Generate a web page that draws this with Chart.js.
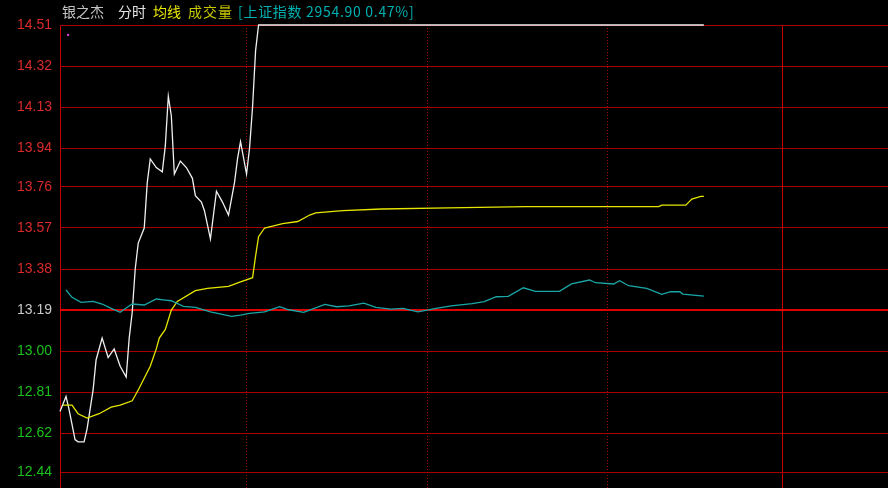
<!DOCTYPE html>
<html>
<head>
<meta charset="utf-8">
<script src="https://cdn.jsdelivr.net/npm/chart.js@4"></script>
<style>
  body { margin: 0; background: #000; }
  #wrap { position: relative; width: 888px; height: 488px; background: #000; }
  #head span { position: absolute; top: 2px; font: 14px "Noto Sans CJK SC", sans-serif; line-height: 18px; white-space: nowrap; }
</style>
</head>
<body>
<div id="wrap">
  <canvas id="c" width="888" height="488"></canvas>
  <div id="head">
    <span style="left:62px;color:#c4c4c4">银之杰</span>
    <span style="left:118px;color:#e4e4e4">分时</span>
    <span style="left:153px;color:#e8e800">均线</span>
    <span style="left:188px;color:#c8c800;letter-spacing:1px">成交量</span>
    <span style="left:238px;color:#00b0b0;letter-spacing:0.7px">[上证指数 2954.90 0.47%]</span>
  </div>
</div>
<script>
// minutes since open (0..240)
var prevClose = 13.19;
var indexPrevClose = 2941.08;
var priceTicks = [14.51, 14.32, 14.13, 13.94, 13.76, 13.57, 13.38, 13.19, 13.00, 12.81, 12.62, 12.44];
var hourTicks = [0, 62, 122, 182, 240];

var priceTimes = [0, 2, 3, 5, 6, 8, 9, 11, 12, 14, 16, 18, 20, 22, 23, 24, 25, 26, 28, 29, 30, 32, 34, 35, 36, 37, 38, 40, 42, 44, 45, 47, 48, 50, 52, 54, 56, 58, 59, 60, 62, 63, 64, 65, 66, 214];
var prices = [12.72, 12.79, 12.73, 12.59, 12.58, 12.58, 12.64, 12.82, 12.96, 13.06, 12.97, 13.01, 12.93, 12.88, 13.06, 13.18, 13.38, 13.50, 13.57, 13.78, 13.89, 13.85, 13.83, 13.95, 14.18, 14.09, 13.82, 13.88, 13.85, 13.80, 13.72, 13.69, 13.65, 13.52, 13.74, 13.69, 13.63, 13.78, 13.89, 13.97, 13.82, 13.94, 14.13, 14.39, 14.51, 14.51];

var avgTimes = [1, 4, 6, 9, 13, 17, 20, 24, 26, 30, 32, 33, 35, 37, 39, 45, 49, 56, 60, 64, 65, 66, 68, 71, 74, 79, 83, 85, 94, 107, 129, 155, 199, 200, 208, 210, 213, 214];
var avgPrices = [12.75, 12.75, 12.71, 12.69, 12.71, 12.74, 12.75, 12.77, 12.82, 12.93, 13.01, 13.06, 13.10, 13.19, 13.23, 13.28, 13.29, 13.30, 13.32, 13.34, 13.44, 13.53, 13.57, 13.58, 13.59, 13.60, 13.63, 13.64, 13.650, 13.658, 13.663, 13.669, 13.669, 13.676, 13.676, 13.704, 13.716, 13.716];

var indexTimes = [2, 4, 7, 11, 14, 17, 20, 22, 24, 28, 32, 35, 37, 41, 45, 50, 57, 60, 63, 68, 73, 76, 81, 88, 92, 96, 101, 105, 110, 114, 119, 125, 130, 137, 141, 145, 149, 154, 158, 166, 170, 176, 178, 184, 186, 189, 195, 200, 203, 206, 207, 214];
var indexValues = [2961.8, 2954.2, 2949.1, 2950.1, 2947.3, 2942.9, 2938.7, 2943.2, 2947.3, 2946.3, 2952.5, 2951.4, 2950.7, 2944.9, 2943.9, 2939.3, 2934.6, 2935.9, 2937.7, 2939.3, 2944.5, 2941.4, 2938.7, 2947.0, 2944.5, 2945.5, 2948.3, 2943.9, 2942.1, 2942.9, 2939.3, 2942.9, 2945.5, 2947.8, 2949.7, 2954.8, 2955.3, 2964.1, 2960.4, 2960.4, 2968.0, 2972.1, 2969.3, 2968.0, 2971.4, 2966.2, 2963.5, 2957.3, 2960.0, 2960.0, 2957.6, 2955.4];

var markTimes = [2.7];
var markPrices = [14.464];

function pts(xs, ys) {
  return xs.map(function (x, i) { return { x: x, y: ys[i] }; });
}
// index plotted as percent change on the price scale
var indexOnPrice = indexValues.map(function (v) { return prevClose * v / indexPrevClose; });

function noPad(s) {
  s.paddingTop = 0; s.paddingBottom = 0; s.paddingLeft = 0; s.paddingRight = 0;
}

new Chart(document.getElementById('c'), {
  type: 'line',
  data: {
    datasets: [
      { data: pts(indexTimes, indexOnPrice), borderColor: '#1aa6a6', borderWidth: 1.3 },
      { data: pts(avgTimes, avgPrices), borderColor: '#e6e600', borderWidth: 1.3 },
      { data: pts(priceTimes, prices), borderColor: '#f0f0f0', borderWidth: 1.3 },
      { data: pts(markTimes, markPrices), showLine: false, borderWidth: 0, pointRadius: 1.5, pointStyle: 'rect', pointBackgroundColor: '#d040d0', pointBorderWidth: 0 }
    ]
  },
  options: {
    responsive: false,
    animation: false,
    layout: { autoPadding: false, padding: { top: 25, right: 0, bottom: 0, left: 0 } },
    elements: { point: { radius: 0 }, line: { tension: 0 } },
    datasets: { line: { clip: 3 } },
    plugins: { legend: { display: false }, title: { display: false }, tooltip: { enabled: false } },
    scales: {
      x: {
        type: 'linear',
        min: 0,
        max: 275.2,
        afterBuildTicks: function (s) { s.ticks = hourTicks.map(function (v) { return { value: v }; }); },
        afterFit: function (s) { s.height = 0; noPad(s); },
        ticks: { display: false },
        border: {
          display: false,
          dash: function (ctx) { return (ctx.tick && (ctx.tick.value === 0 || ctx.tick.value === 240)) ? [] : [1, 2]; }
        },
        grid: {
          drawTicks: false,
          color: function (ctx) { return (ctx.tick && (ctx.tick.value === 0 || ctx.tick.value === 240)) ? '#c80000' : '#a00000'; },
          lineWidth: 1
        }
      },
      y: {
        min: 12.366,
        max: 14.51,
        afterBuildTicks: function (s) { s.ticks = priceTicks.map(function (v) { return { value: v }; }); },
        afterFit: function (s) { s.width = 60; noPad(s); },
        border: { display: false },
        grid: {
          drawTicks: false,
          color: function (ctx) { return (ctx.tick && ctx.tick.value === prevClose) ? '#e00000' : '#a80000'; },
          lineWidth: function (ctx) { return (ctx.tick && ctx.tick.value === prevClose) ? 2 : 1; }
        },
        ticks: {
          padding: 8,
          font: { family: 'Liberation Sans, Arial', size: 14 },
          color: function (ctx) {
            var v = ctx.tick.value;
            if (v > prevClose) return '#d82a2a';
            if (v < prevClose) return '#1cc01c';
            return '#c8c8c8';
          },
          callback: function (v) { return v.toFixed(2); }
        }
      }
    }
  }
});
</script>
</body>
</html>
